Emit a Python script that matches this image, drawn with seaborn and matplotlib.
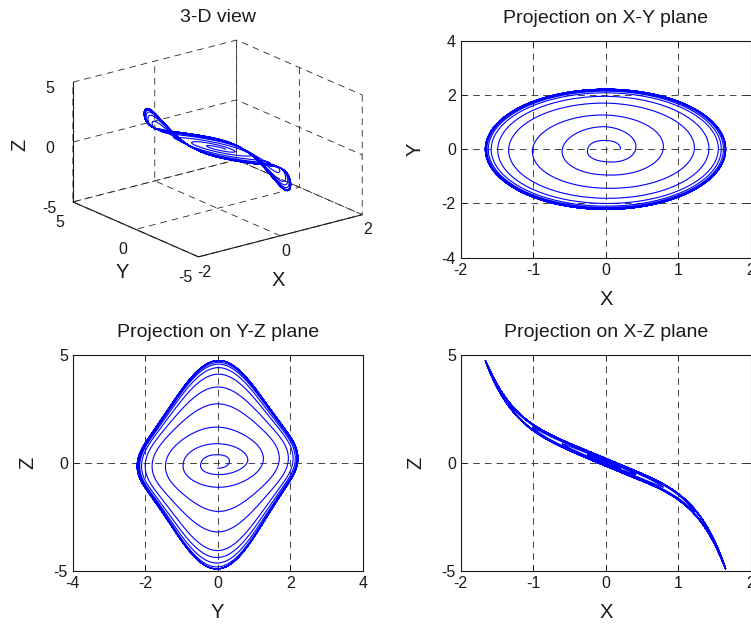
import numpy as np
import pandas as pd
import matplotlib
matplotlib.use('Agg')
import matplotlib.pyplot as plt
import seaborn as sns

x_peak = [0.20, 0.25, 0.41, 0.60, 0.79, 1.01, 1.22, 1.34, 1.42, 1.49, 1.55, 1.58,
          1.59, 1.62, 1.62, 1.64, 1.64, 1.65, 1.65, 1.66, 1.65, 1.66, 1.65, 1.66,
          1.65, 1.66, 1.65, 1.66, 1.65, 1.66]
# Y extremes between them, read at x = 0 (top, bottom, top, ...)
y_peak = [0.32, 0.46, 0.83, 0.95, 1.26, 1.44, 1.70, 1.81, 1.95, 2.00, 2.08, 2.10,
          2.14, 2.15, 2.18, 2.18, 2.20, 2.20, 2.21, 2.22, 2.21, 2.22, 2.21, 2.22,
          2.21, 2.22, 2.21, 2.22, 2.21, 2.22]
# Z against X
zx_knots = [-1.70, -1.62, -1.48, -1.28, -1.00, -0.75, -0.50, -0.25, 0.00,
            0.25, 0.50, 0.75, 1.00, 1.28, 1.48, 1.66]
z_knots = [5.10, 4.46, 3.37, 2.52, 1.64, 1.15, 0.74, 0.36, 0.00,
           -0.32, -0.65, -1.05, -1.58, -2.50, -3.59, -5.00]
z_tilt = 0.08  # half width of the X-Z band per unit of Y

# trace the spiral through the read extremes
n = len(x_peak)
theta = np.linspace(0, (n - 1) * np.pi + np.pi / 2, 240 * n)
ax_amp = np.interp(theta, np.arange(n) * np.pi, x_peak)
ay_amp = np.interp(theta, np.arange(n) * np.pi + np.pi / 2, y_peak)
traj = pd.DataFrame({'X': ax_amp * np.cos(theta), 'Y': ay_amp * np.sin(theta)})
z_of_x = np.polynomial.Polynomial.fit(zx_knots, z_knots, 5)  # smooth the read curve
traj['Z'] = z_of_x(traj['X']) + z_tilt * traj['Y']

sns.set_theme(style='white', rc={
    'xtick.direction': 'in', 'ytick.direction': 'in',
    'xtick.bottom': True, 'xtick.top': True, 'ytick.left': True, 'ytick.right': True,
    'xtick.major.size': 4, 'ytick.major.size': 4,
    'xtick.major.width': 0.6, 'ytick.major.width': 0.6,
    'xtick.color': 'k', 'ytick.color': 'k',
    'axes.edgecolor': 'k', 'axes.linewidth': 0.8,
    'xtick.labelsize': 11.5, 'ytick.labelsize': 11.5,
    'axes.labelsize': 14.5, 'axes.titlesize': 14,
    'text.color': 'k', 'axes.labelcolor': 'k',
    'axes.unicode_minus': False,
})
plt.rcParams['font.family'] = ['Liberation Sans', 'DejaVu Sans']

fig = plt.figure(figsize=(7.51, 6.24), dpi=100)
W, H = 751, 624


def rect(x0, x1, y0, y1):
    return [x0 / W, 1 - y1 / H, (x1 - x0) / W, (y1 - y0) / H]


panels = [
    (rect(460.7, 751, 40.7, 257.7), 'X', 'Y', (-2, 2), (-4, 4), [-2, -1, 0, 1, 2], [-4, -2, 0, 2, 4],
     'Projection on X-Y plane'),
    (rect(72.7, 362.7, 355, 570.7), 'Y', 'Z', (-4, 4), (-5, 5), [-4, -2, 0, 2, 4], [-5, 0, 5],
     'Projection on Y-Z plane'),
    (rect(460.7, 751, 355, 570.7), 'X', 'Z', (-2, 2), (-5, 5), [-2, -1, 0, 1, 2], [-5, 0, 5],
     'Projection on X-Z plane'),
]
for pos, xc, yc, xl, yl, xt, yt, title in panels:
    ax = fig.add_axes(pos)
    sns.lineplot(data=traj, x=xc, y=yc, sort=False, estimator=None,
                 color='blue', lw=0.8, ax=ax)
    ax.set_xlim(xl)
    ax.set_ylim(yl)
    ax.set_xticks(xt)
    ax.set_yticks(yt)
    ax.grid(True, color='0.15', lw=0.6, ls=(0, (8, 6)))
    ax.set_axisbelow(True)
    ax.set_xlabel(xc, labelpad=9)
    ax.set_ylabel(yc, labelpad=12)
    ax.set_title(title, pad=13)

# 3-D view
ax3 = fig.add_axes([63.5 / W, 1 - 302.5 / H, 300 / W, 300 / H], projection='3d', proj_type='ortho')
ax3.plot(traj['X'], traj['Y'], traj['Z'], color='blue', lw=0.8)
ax3.view_init(elev=19.6, azim=-127.5)
ax3.set_box_aspect((1, 1, 0.616), zoom=1.03)
ax3.set_xlim(-2, 2)
ax3.set_ylim(-5, 5)
ax3.set_zlim(-5, 5)
ax3.set_xticks([-2, 0, 2])
ax3.set_yticks([-5, 0, 5])
ax3.set_zticks([-5, 0, 5])
ax3.tick_params(axis='x', pad=-3)
ax3.tick_params(axis='y', pad=1)
ax3.tick_params(axis='z', pad=1)
for axis in (ax3.xaxis, ax3.yaxis, ax3.zaxis):
    axis.set_pane_color((1, 1, 1, 0))
    axis.pane.set_edgecolor('none')
    axis._axinfo['grid'].update(color='0.15', linewidth=0.6, linestyle=(0, (8, 6)))
    axis._axinfo['tick'].update(inward_factor=0.0, outward_factor=0.0)
    axis.line.set_color('k')
    axis.line.set_linewidth(0.8)
# axis labels of the 3-D box, placed where MATLAB puts them
fig.text(278 / W, 1 - 280 / H, 'X', ha='center', va='center', fontsize=14.5)
fig.text(122 / W, 1 - 272 / H, 'Y', ha='center', va='center', fontsize=14.5)
fig.text(20 / W, 1 - 145 / H, 'Z', ha='center', va='center', fontsize=14.5, rotation=90)
fig.text(217.5 / W, 1 - 18 / H, '3-D view', ha='center', va='center', fontsize=14)

fig.savefig('out.png', dpi=100)
